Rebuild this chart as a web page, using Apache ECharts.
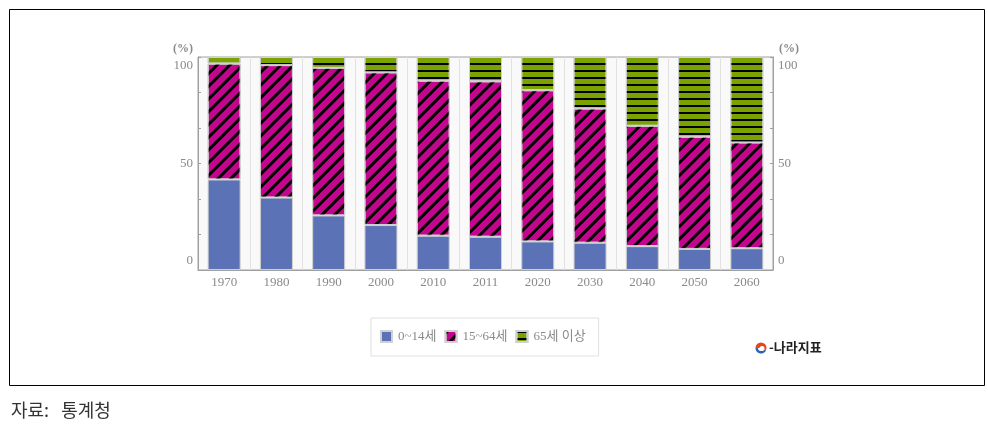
<!DOCTYPE html>
<html><head><meta charset="utf-8">
<style>html,body{margin:0;padding:0;background:#fff}#c{width:988px;height:425px}</style>
<script src="https://cdn.jsdelivr.net/npm/echarts@6/dist/echarts.min.js"></script>
</head><body><div id="c"></div>
<script>
const years = ['1970','1980','1990','2000','2010','2011','2020','2030','2040','2050','2060'];
const young = [42.5,34.0,25.6,21.1,16.1,15.6,13.4,12.8,11.2,9.9,10.2];
const working = [54.4,62.2,69.3,71.7,72.8,73.0,71.0,63.0,56.5,52.7,49.7];
const elderly = [3.1,3.8,5.1,7.2,11.1,11.4,15.6,24.2,32.3,37.4,40.1];
const seriesNames = ['0~14세','15~64세','65세 이상'];
const yLabels = [0,50,100];
const yTicks = [0,16.67,33.33,50,66.67,83.33,100];
const sourceText = '자료:   통계청';
const logoText = '-나라지표';

const serif = '"Liberation Serif","Noto Sans CJK KR",serif';
const grey = '#8a8a8a';
const axisLine = {show:true,lineStyle:{color:'#a0a0a0',width:1}};
const makeY = (position) => ({
  type:'value',position,min:0,max:100,
  name:'(%)',nameLocation:'end',nameGap:2,
  nameTextStyle:{color:grey,fontFamily:serif,fontSize:12,fontWeight:'bold',
    align:position==='left'?'right':'left',padding:position==='left'?[0,5,0,0]:[0,0,0,6]},
  axisLine,
  axisTick:{show:true,inside:true,length:3,customValues:yTicks,lineStyle:{color:'#a0a0a0'}},
  axisLabel:{color:grey,fontFamily:serif,fontSize:13,lineHeight:18,margin:5,customValues:yLabels,
    verticalAlignMinLabel:'bottom',verticalAlignMaxLabel:'top'},
  splitLine:{show:false}
});
const border = {borderColor:'#d0d0d0',borderWidth:1};
const chart = echarts.init(document.getElementById('c'),null,{renderer:'canvas'});
chart.setOption({
  animation:false,
  grid:{left:198,top:57,width:575,height:213,show:true,backgroundColor:'#f9f9f9',borderColor:'#a0a0a0',borderWidth:1},
  xAxis:{type:'category',data:years,
    axisLine:{show:true,lineStyle:{color:'#a0a0a0'}},axisTick:{show:false},
    axisLabel:{color:grey,fontFamily:serif,fontSize:13,margin:6},
    splitLine:{show:true,lineStyle:{color:'#e2e2e2'}}},
  yAxis:[makeY('left'),makeY('right')],
  legend:{left:371,top:318,orient:'horizontal',padding:[12,13,13,9],itemWidth:11,itemHeight:11,itemGap:8,icon:'rect',
    backgroundColor:'#fff',borderColor:'#e0e0e0',borderWidth:1,
    textStyle:{color:grey,fontFamily:serif,fontSize:13,padding:[0,0,0,1]},data:seriesNames},
  series:[
    {name:seriesNames[0],type:'bar',stack:'p',barWidth:33,data:young,
      itemStyle:{color:'#5b73b6',...border}},
    {name:seriesNames[1],type:'bar',stack:'p',barWidth:33,data:working,
      itemStyle:{color:'#c4068e',...border,
        decal:{symbol:'rect',color:'#000',dashArrayX:[1,0],dashArrayY:[2.5,6],rotation:-Math.PI/4}}},
    {name:seriesNames[2],type:'bar',stack:'p',barWidth:33,data:elderly,
      itemStyle:{color:'#7aa300',...border,
        decal:{symbol:'rect',color:'#000',dashArrayX:[1,0],dashArrayY:[2,5],rotation:0}}}
  ],
  graphic:[
    {type:'rect',silent:true,z:-1,shape:{x:9.5,y:9.5,width:975,height:376},style:{fill:'none',stroke:'#000',lineWidth:1}},
    {type:'text',silent:true,x:11,y:401,style:{text:sourceText,fill:'#333',font:'18px "Noto Sans CJK KR"'}},
    {type:'sector',silent:true,shape:{cx:761,cy:348,r:5.5,r0:0,startAngle:-Math.PI,endAngle:Math.PI*0.1},style:{fill:'#e8451c'}},
    {type:'sector',silent:true,shape:{cx:761,cy:348,r:5.5,r0:3,startAngle:Math.PI*0.1,endAngle:Math.PI},style:{fill:'#2f64b4'}},
    {type:'circle',silent:true,shape:{cx:762,cy:348.5,r:2.5},style:{fill:'#fff'}},
    {type:'text',silent:true,x:769,y:341,style:{text:logoText,fill:'#222',font:'bold 13px "Noto Sans CJK KR"'}}
  ]
});
</script></body></html>
